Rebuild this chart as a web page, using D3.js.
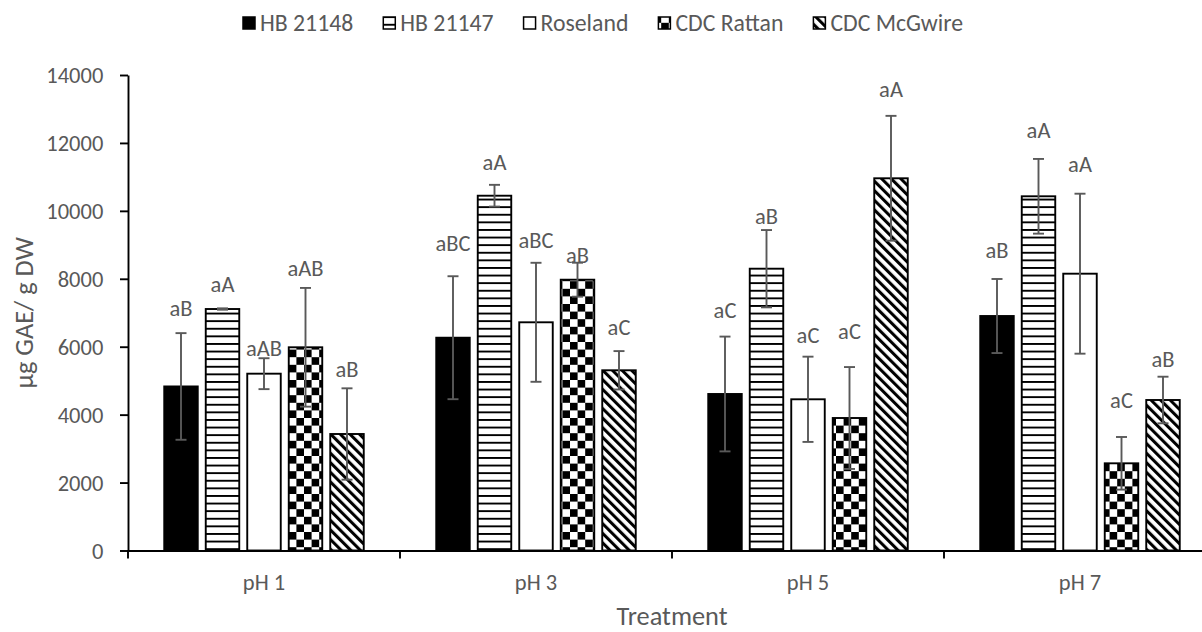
<!DOCTYPE html>
<html><head><meta charset="utf-8">
<script src="https://cdn.jsdelivr.net/npm/d3@7"></script>
<style>
html,body{margin:0;padding:0;background:#fff;}
svg{display:block;}
text{font-family: Carlito, Calibri, Lato, sans-serif; fill:#595959;}
</style></head><body>
<svg id="chart" width="1202" height="632"></svg>
<script>
// ---------------- DATA ----------------
const categories = ["pH 1", "pH 3", "pH 5", "pH 7"];
const seriesNames = ["HB 21148", "HB 21147", "Roseland", "CDC Rattan", "CDC McGwire"];
const hb21148    = [4830, 6265, 4608, 6904];
const hb21147    = [7110, 10446, 8297, 10429];
const roseland   = [5206, 6719, 4452, 8150];
const cdcRattan  = [5983, 7973, 3901, 2567];
const cdcMcGwire = [3430, 5306, 10959, 4431];
const hb21148Err    = [1570, 1810, 1690, 1090];
const hb21147Err    = [20, 320, 1138, 1100];
const roselandErr   = [455, 1752, 1255, 2355];
const cdcRattanErr  = [1748, 500, 1500, 775];
const cdcMcGwireErr = [1345, 565, 1838, 686];
const hb21148Sig    = ["aB", "aBC", "aC", "aB"];
const hb21147Sig    = ["aA", "aA", "aB", "aA"];
const roselandSig   = ["aAB", "aBC", "aC", "aA"];
const cdcRattanSig  = ["aAB", "aB", "aC", "aC"];
const cdcMcGwireSig = ["aB", "aC", "aA", "aB"];
const yTicks = [0, 2000, 4000, 6000, 8000, 10000, 12000, 14000];
const xTitle = "Treatment";
const yTitle = "µg GAE/ g DW";

// ---------------- LAYOUT / STYLE ----------------
const seriesValues = [hb21148, hb21147, roseland, cdcRattan, cdcMcGwire];
const seriesErrs = [hb21148Err, hb21147Err, roselandErr, cdcRattanErr, cdcMcGwireErr];
const seriesSigs = [hb21148Sig, hb21147Sig, roselandSig, cdcRattanSig, cdcMcGwireSig];
// pixel gap between error-bar top and label centre (category x series)
const labelGap = [[25,24,10,20,19],[33,23,23,8,24],[26,14,22,36,27],[29,29,30,37,18]];

const W = 1202, H = 632;
const plotLeft = 128, plotRight = 1216, plotTop = 75, plotBottom = 550.5;
const svg = d3.select("#chart");

function fitSize(str, target) {
  const t = svg.append("text").attr("font-size", 100).text(str);
  const w = t.node().getComputedTextLength();
  t.remove();
  return 100 * target / w;
}
const tickFont = fitSize("14000", 57);
const legendFont = fitSize("CDC Rattan", 108);
const titleFont = fitSize("Treatment", 111);

const defs = svg.append("defs");
const P = 7.6;
// horizontal lines
const ph = defs.append("pattern").attr("id", "p-horiz").attr("patternUnits", "userSpaceOnUse")
  .attr("width", P).attr("height", P).attr("y", 1);
ph.append("rect").attr("width", P).attr("height", P).attr("fill", "#fff");
ph.append("rect").attr("width", P).attr("height", 1.9).attr("fill", "#000");
// checkerboard
const pc = defs.append("pattern").attr("id", "p-check").attr("patternUnits", "userSpaceOnUse")
  .attr("width", 2 * P).attr("height", 2 * P);
pc.append("rect").attr("width", 2 * P).attr("height", 2 * P).attr("fill", "#fff");
pc.append("rect").attr("width", P).attr("height", P).attr("fill", "#000");
pc.append("rect").attr("x", P).attr("y", P).attr("width", P).attr("height", P).attr("fill", "#000");
// downward diagonal
const dp = 9.6 / Math.SQRT2;
const pd = defs.append("pattern").attr("id", "p-diag").attr("patternUnits", "userSpaceOnUse")
  .attr("width", dp).attr("height", dp).attr("patternTransform", "rotate(-45)");
pd.append("rect").attr("width", dp).attr("height", dp).attr("fill", "#fff");
pd.append("rect").attr("width", dp * 0.45).attr("height", dp).attr("fill", "#000");

const fills = ["#000", "url(#p-horiz)", "#fff", "url(#p-check)", "url(#p-diag)"];

// scales
const x0 = d3.scaleBand().domain(categories).range([plotLeft, plotRight]).padding(0);
const groupW = 199.5;
const x1 = d3.scaleBand().domain(seriesNames)
  .range([(x0.bandwidth() - groupW) / 2, (x0.bandwidth() + groupW) / 2])
  .paddingInner(8 / 41.5).paddingOuter(0);
const y = d3.scaleLinear().domain([0, 14000]).range([plotBottom, plotTop]);

// bars
const rows = [];
categories.forEach((c, ci) => seriesNames.forEach((s, si) => rows.push({
  c, ci, s, si, v: seriesValues[si][ci], e: seriesErrs[si][ci], sig: seriesSigs[si][ci]
})));

svg.append("g").selectAll("rect").data(rows).join("rect")
  .attr("x", d => x0(d.c) + x1(d.s))
  .attr("y", d => y(d.v))
  .attr("width", x1.bandwidth())
  .attr("height", d => y(0) - y(d.v))
  .attr("fill", d => fills[d.si])
  .attr("stroke", "#000").attr("stroke-width", 1.9);

// error bars
const eg = svg.append("g").attr("stroke", "#595959").attr("stroke-width", 1.9);
rows.forEach(d => {
  const cx = x0(d.c) + x1(d.s) + x1.bandwidth() / 2;
  const yt = y(d.v + d.e), yb = y(d.v - d.e);
  eg.append("line").attr("x1", cx).attr("x2", cx).attr("y1", yt).attr("y2", yb);
  eg.append("line").attr("x1", cx - 5.5).attr("x2", cx + 5.5).attr("y1", yt).attr("y2", yt);
  eg.append("line").attr("x1", cx - 5.5).attr("x2", cx + 5.5).attr("y1", yb).attr("y2", yb);
});

// significance labels
svg.append("g").selectAll("text").data(rows).join("text")
  .attr("x", d => x0(d.c) + x1(d.s) + x1.bandwidth() / 2)
  .attr("y", d => y(d.v + d.e) - labelGap[d.ci][d.si])
  .attr("dy", "0.35em")
  .attr("text-anchor", "middle")
  .attr("font-size", tickFont)
  .text(d => d.sig);

// y axis
const yAxis = svg.append("g").attr("transform", `translate(${plotLeft},0)`)
  .call(d3.axisLeft(y).tickValues(yTicks).tickSize(8).tickSizeOuter(0).tickPadding(16.7)
    .tickFormat(d3.format("d")));
yAxis.select(".domain").attr("stroke", "#000").attr("stroke-width", 1.9);
yAxis.selectAll(".tick line").attr("stroke", "#000").attr("stroke-width", 1.9);
yAxis.selectAll(".tick text").attr("font-size", tickFont).attr("font-family", null)
  .attr("fill", "#595959").attr("dy", "0.35em");
yAxis.attr("font-family", null);

// x axis
const xAxis = svg.append("g").attr("transform", `translate(0,${plotBottom})`)
  .call(d3.axisBottom(x0).tickSize(0).tickSizeOuter(0));
xAxis.attr("font-family", null);
xAxis.select(".domain").attr("stroke", "#000").attr("stroke-width", 1.9);
xAxis.selectAll(".tick text").attr("font-size", tickFont).attr("fill", "#595959")
  .attr("y", 590 - plotBottom).attr("dy", null);
const bounds = categories.map(c => x0(c)).concat([x0.range()[1]]);
xAxis.selectAll(".bound").data(bounds).join("line").attr("class", "bound")
  .attr("x1", d => d).attr("x2", d => d).attr("y1", 0).attr("y2", 8)
  .attr("stroke", "#000").attr("stroke-width", 1.9);

// axis titles
svg.append("text").attr("x", (plotLeft + plotRight) / 2).attr("y", 625)
  .attr("text-anchor", "middle").attr("font-size", titleFont).text(xTitle);
svg.append("text").attr("transform", `translate(33,${(plotTop + plotBottom) / 2}) rotate(-90)`)
  .attr("text-anchor", "middle").attr("font-size", titleFont).text(yTitle);

// legend
const lg = svg.append("g");
const items = seriesNames.map((s, i) => {
  const t = lg.append("text").attr("font-size", legendFont).attr("y", 23).attr("dy", "0.35em").text(s);
  return { t, w: t.node().getComputedTextLength(), i };
});
const sq = 12, gapIn = 5, gapOut = 30;
const total = d3.sum(items, d => sq + gapIn + d.w) + gapOut * (items.length - 1);
let cx = 603 - total / 2;
items.forEach(d => {
  lg.append("rect").attr("x", cx).attr("y", 23 - sq / 2).attr("width", sq).attr("height", sq)
    .attr("fill", fills[d.i]).attr("stroke", "#000").attr("stroke-width", 1.5);
  d.t.attr("x", cx + sq + gapIn);
  cx += sq + gapIn + d.w + gapOut;
});
</script>
</body></html>
